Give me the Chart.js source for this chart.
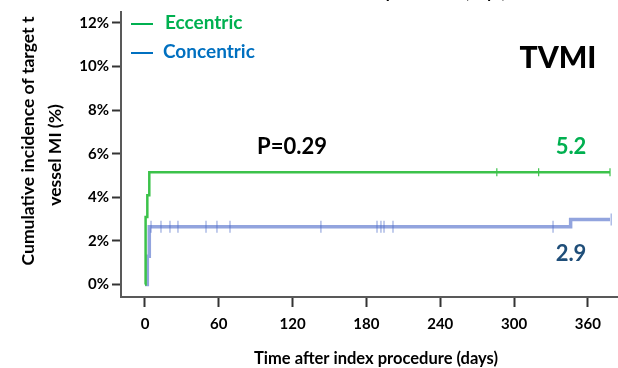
<!DOCTYPE html>
<html>
<head>
<meta charset="utf-8">
<script src="https://cdn.jsdelivr.net/npm/chart.js@4"></script>
<style>
  html, body { margin: 0; padding: 0; background: #fff; }
  #wrap { width: 618px; height: 368px; position: relative; }
</style>
</head>
<body>
<div id="wrap"><canvas id="km"></canvas></div>
<script>
// datos (días, %)
const xTicks = [0, 60, 120, 180, 240, 300, 360];
const yTicks = [0, 2, 4, 6, 8, 10, 12];

const eccTimes = [0, 0.5, 1.9, 3.5, 378];
const eccValues = [0, 3.1, 4.1, 5.15, 5.15];
const eccCensor = [286, 320, 378];

const conTimes = [0, 1.9, 3.5, 346, 378];
const conValues = [0, 1.3, 2.65, 2.98, 2.98];
const conCensor = [4.9, 13, 20.3, 26.8, 49.6, 58.5, 69.1, 143, 188.6, 191.8, 194.3, 201.6, 331.7, 379];

const labels = ['Eccentric', 'Concentric'];
const finalLabels = ['5.2', '2.9'];
const pLabel = 'P=0.29';
const panelTitle = 'TVMI';

const green = '#3cc24a';
const blue = 'rgba(74, 104, 200, 0.6)';
const FONT = "Lato, 'Open Sans', sans-serif";

function valueAt(times, values, t) {
    let v = values[0];
    for (let i = 0; i < times.length; i++) {
        if (times[i] <= t) v = values[i];
    }
    return v;
}

const toPts = (ts, vs) => ts.map((t, i) => ({ x: t, y: vs[i] }));
const censorPts = (cs, ts, vs) => cs.map(t => ({ x: t, y: valueAt(ts, vs, t) }));

// textos y leyenda dibujados a mano
const annotations = {
    id: 'annotations',
    afterDraw(chart) {
        const ctx = chart.ctx;
        ctx.save();
        ctx.textBaseline = 'middle';

        // leyenda
        ctx.lineWidth = 2;
        ctx.strokeStyle = '#00b050';
        ctx.beginPath(); ctx.moveTo(131, 24); ctx.lineTo(153, 24); ctx.stroke();
        ctx.strokeStyle = '#0070c0';
        ctx.beginPath(); ctx.moveTo(131, 53); ctx.lineTo(153, 53); ctx.stroke();
        ctx.font = `bold 19px ${FONT}`;
        ctx.textAlign = 'left';
        ctx.fillStyle = '#00b050';
        ctx.fillText(labels[0], 165, 23);
        ctx.fillStyle = '#0070c0';
        ctx.fillText(labels[1], 163, 52);

        ctx.fillStyle = '#000';
        ctx.font = `900 30px ${FONT}`;
        ctx.textAlign = 'center';
        ctx.fillText(panelTitle, 558, 58);

        ctx.font = `bold 22px ${FONT}`;
        ctx.fillText(pLabel, 292, 147);

        ctx.fillStyle = '#00b050';
        ctx.fillText(finalLabels[0], 571, 147);
        ctx.fillStyle = '#1f4e79';
        ctx.fillText(finalLabels[1], 571, 254);

        // títulos de ejes
        ctx.fillStyle = '#000';
        ctx.font = `bold 16.5px ${FONT}`;
        ctx.fillText('Time after index procedure (days)', 376, 359);
        ctx.textBaseline = 'alphabetic';
        ctx.fillText('Time after index procedure (days)', 384, -2);

        ctx.textBaseline = 'middle';
        ctx.font = `bold 17.5px ${FONT}`;
        ctx.translate(28, 141);
        ctx.rotate(-Math.PI / 2);
        ctx.fillText('Cumulative incidence of target t', 0, 0);
        ctx.rotate(Math.PI / 2);
        ctx.translate(27, 14);
        ctx.rotate(-Math.PI / 2);
        ctx.fillText('vessel MI (%)', 0, 0);
        ctx.restore();
    }
};

new Chart(document.getElementById('km'), {
    type: 'line',
    data: {
        datasets: [
            {
                label: labels[0],
                data: toPts(eccTimes, eccValues),
                borderColor: green,
                borderWidth: 2.5,
                stepped: 'before',
                pointRadius: 0
            },
            {
                label: labels[1],
                data: toPts(conTimes, conValues),
                borderColor: blue,
                borderWidth: 3.5,
                stepped: 'before',
                pointRadius: 0
            },
            {
                type: 'scatter',
                data: censorPts(eccCensor, eccTimes, eccValues),
                pointStyle: 'line',
                rotation: 90,
                radius: 4,
                borderColor: green,
                borderWidth: 1.2
            },
            {
                type: 'scatter',
                data: censorPts(conCensor, conTimes, conValues),
                pointStyle: 'line',
                rotation: 90,
                radius: 6,
                borderColor: 'rgba(74, 104, 200, 0.45)',
                borderWidth: 1.5
            }
        ]
    },
    options: {
        responsive: true,
        maintainAspectRatio: false,
        animation: false,
        events: [],
        layout: { autoPadding: false, padding: { top: 12, right: 0, left: 0, bottom: 0 } },
        plugins: { legend: { display: false }, tooltip: { enabled: false } },
        scales: {
            x: {
                type: 'linear',
                min: -19.5,
                max: 384.5,
                afterBuildTicks: s => { s.ticks = xTicks.map(v => ({ value: v })); },
                afterFit: s => { s.height = 71; s.paddingLeft = 0; s.paddingRight = 0; },
                grid: { drawOnChartArea: false, drawTicks: true, tickLength: 10, tickColor: '#333', tickWidth: 2 },
                border: { color: '#595959', width: 2 },
                ticks: { color: '#000', padding: 8, maxRotation: 0, font: { family: FONT, size: 15, weight: 'bold' } }
            },
            y: {
                type: 'linear',
                min: -0.57,
                max: 12.5,
                afterBuildTicks: s => { s.ticks = yTicks.map(v => ({ value: v })); },
                afterFit: s => { s.width = 121; s.paddingTop = 0; s.paddingBottom = 0; },
                grid: { drawOnChartArea: false, drawTicks: true, tickLength: 9, tickColor: '#333', tickWidth: 2 },
                border: { color: '#595959', width: 2 },
                ticks: { color: '#000', padding: 3, font: { family: FONT, size: 15, weight: 'bold' }, callback: v => v + '%' }
            }
        }
    },
    plugins: [annotations]
});
</script>
</body>
</html>
